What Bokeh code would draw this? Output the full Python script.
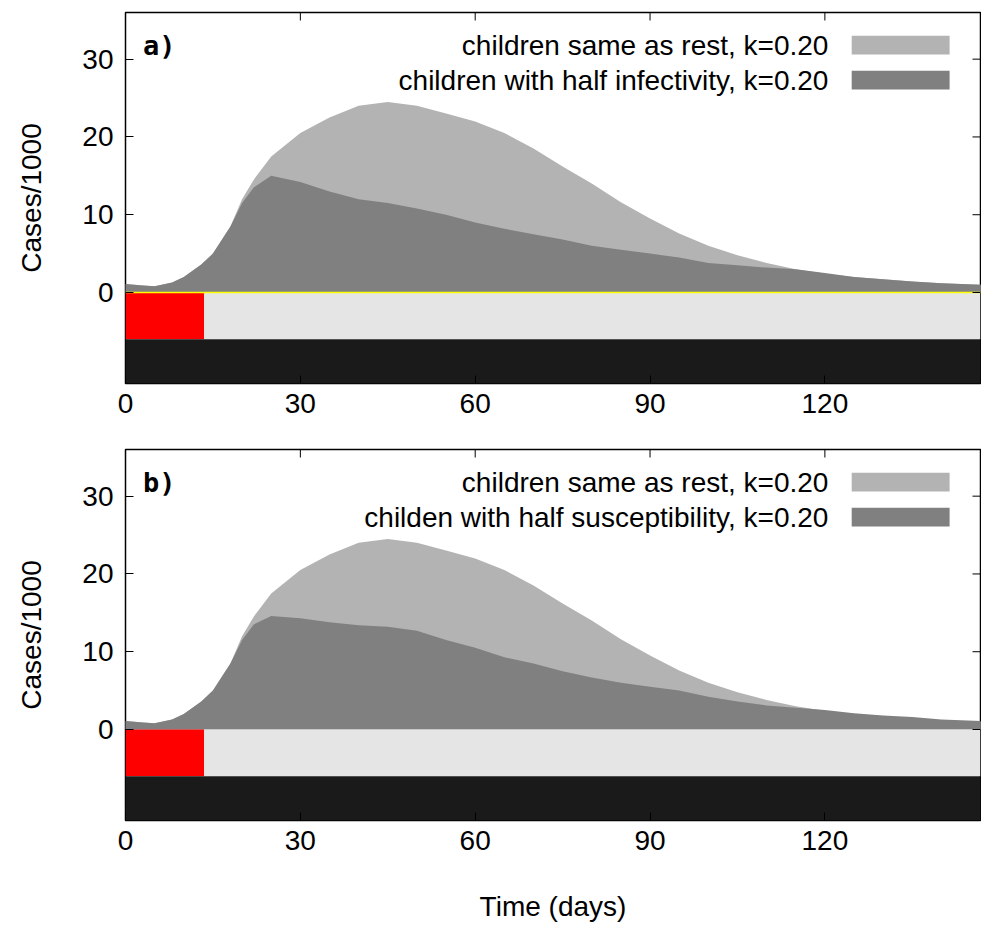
from bokeh.plotting import figure
from bokeh.layouts import column
from bokeh.models import Label, Range1d, FixedTicker
from bokeh.embed import file_html
from bokeh.resources import INLINE

days = [0, 3, 5, 8, 10, 13, 15, 18, 20, 22, 25, 30, 35, 40, 45, 50, 55, 60, 65, 70, 75, 80, 85, 90, 95, 100, 105, 110, 115, 120, 125, 130, 135, 140, 147]
same_as_rest = [1.1, 0.9, 0.8, 1.3, 2.0, 3.6, 5.0, 8.5, 12.0, 14.5, 17.5, 20.5, 22.5, 24.0, 24.5, 24.0, 23.0, 22.0, 20.5, 18.5, 16.2, 14.0, 11.6, 9.5, 7.6, 6.0, 4.8, 3.8, 3.0, 2.4, 2.0, 1.7, 1.4, 1.2, 1.0]
half_infectivity = [1.1, 0.9, 0.8, 1.3, 2.0, 3.6, 5.0, 8.5, 11.5, 13.5, 15.0, 14.2, 13.0, 12.0, 11.5, 10.8, 10.0, 9.0, 8.2, 7.5, 6.8, 6.0, 5.5, 5.0, 4.5, 3.8, 3.5, 3.2, 3.0, 2.5, 2.0, 1.7, 1.4, 1.2, 1.0]
half_susceptibility = [1.1, 0.9, 0.8, 1.3, 2.0, 3.6, 5.0, 8.5, 11.5, 13.5, 14.6, 14.3, 13.8, 13.4, 13.2, 12.7, 11.5, 10.5, 9.3, 8.5, 7.5, 6.7, 6.0, 5.5, 5.0, 4.2, 3.6, 3.1, 2.8, 2.5, 2.1, 1.8, 1.6, 1.3, 1.1]
x_ticks = [0, 30, 60, 90, 120]
y_ticks = [0, 10, 20, 30]
FONT = "Liberation Sans"
FS = "28px"
XMAX, YMIN, YMAX = 146.7, -11.7, 36

def panel(tag, dark, dark_label, height, border_top, border_bottom, xlabel):
    p = figure(width=981, height=height, output_backend="svg", toolbar_location=None,
               x_range=Range1d(0, XMAX), y_range=Range1d(YMIN, YMAX),
               min_border_left=125, min_border_right=1, min_border_top=border_top,
               min_border_bottom=border_bottom)
    p.grid.visible = False
    p.outline_line_color = "black"
    p.outline_line_width = 1.5
    p.varea(x=days, y1=0, y2=same_as_rest, fill_color="#b3b3b3")
    p.varea(x=days, y1=0, y2=dark, fill_color="#808080")
    p.quad(left=0, right=13.5, bottom=-6, top=0, fill_color="red", line_color=None)
    p.quad(left=13.5, right=XMAX, bottom=-6, top=0, fill_color="#e5e5e5", line_color=None)
    p.quad(left=0, right=XMAX, bottom=YMIN, top=-6, fill_color="#1a1a1a", line_color=None)
    if tag == "a)":
        p.line(x=[0, XMAX], y=[0, 0], line_color="yellow", line_width=1.5)
    p.segment(x0=[XMAX] * len(y_ticks), x1=[XMAX - 1.37] * len(y_ticks), y0=y_ticks, y1=y_ticks,
              line_color="black", line_width=1)
    p.segment(x0=x_ticks, x1=x_ticks, y0=[YMAX] * len(x_ticks), y1=[YMAX - 1.03] * len(x_ticks),
              line_color="black", line_width=1)
    p.text(x=[120.6, 120.6], y=[31.8, 27.3], text=["children same as rest, k=0.20", dark_label],
           text_align="right", text_baseline="middle", text_font_size=FS,
           text_font={"value": FONT})
    p.quad(left=124.6, right=141.4, bottom=[30.6, 26.1], top=[33.0, 28.5],
           fill_color=["#b3b3b3", "#808080"], line_color=None)
    p.add_layout(Label(x=3, y=31.8, text=tag, text_font_size="27px", text_font_style="bold",
                       text_baseline="middle", text_font="DejaVu Sans Mono", text_color="black"))
    for ax in (p.xaxis[0], p.yaxis[0]):
        ax.major_label_text_font_size = FS
        ax.major_label_text_font = FONT
        ax.major_label_text_color = "black"
        ax.axis_line_color = None
        ax.minor_tick_line_color = None
        ax.major_tick_in = 8
        ax.major_tick_out = 0
        ax.axis_label_text_font_size = FS
        ax.axis_label_text_font = FONT
        ax.axis_label_text_font_style = "normal"
        ax.axis_label_text_color = "black"
    p.xaxis.ticker = FixedTicker(ticks=x_ticks)
    p.yaxis.ticker = FixedTicker(ticks=y_ticks)
    p.yaxis.axis_label = "Cases/1000"
    p.yaxis.axis_label_standoff = 32
    p.yaxis.major_label_standoff = 12
    p.xaxis.major_label_standoff = 10
    if xlabel:
        p.xaxis.axis_label = "Time (days)"
        p.xaxis.axis_label_standoff = 38
    return p

pa = panel("a)", half_infectivity, "children with half infectivity, k=0.20", 445, 12, 62, False)
pb = panel("b)", half_susceptibility, "childen with half susceptibility, k=0.20", 482, 4, 107, True)
lay = column(pa, pb, spacing=0)
open("out.html", "w").write(file_html(lay, INLINE))
